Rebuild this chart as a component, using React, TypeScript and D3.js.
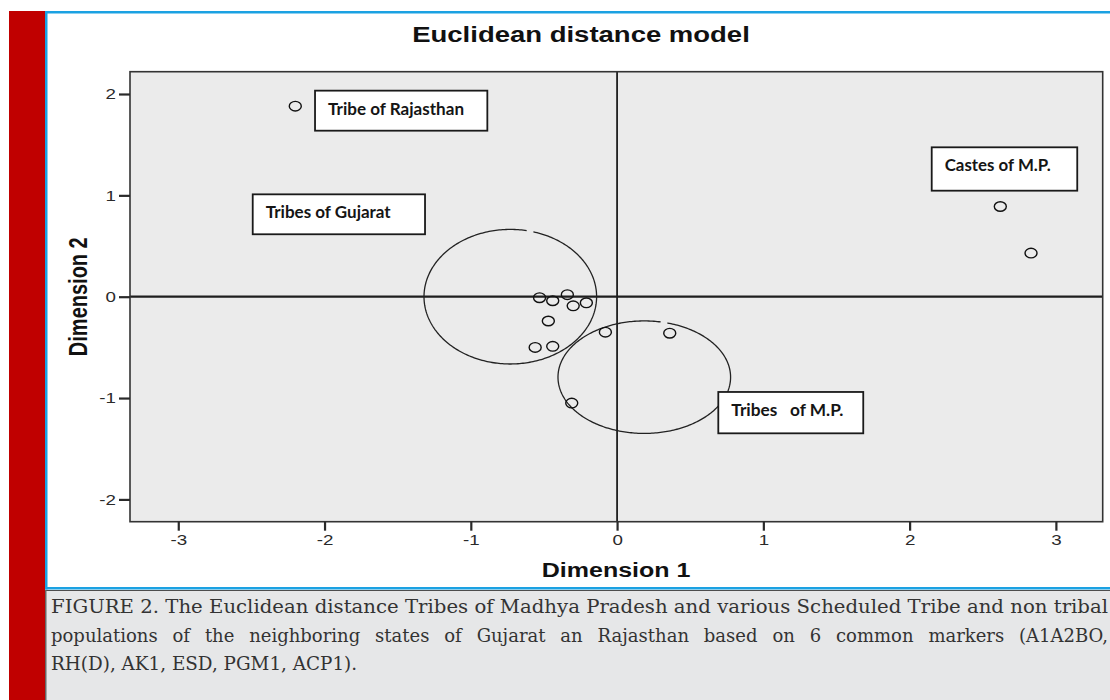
import * as d3 from 'd3';
import React, { useEffect, useRef } from 'react';

// object points, Dimension 1 / Dimension 2
const dim1 = [-2.2, 2.62, 2.83, -0.53, -0.44, -0.34, -0.3, -0.21, -0.47, -0.56, -0.44, -0.08, 0.36, -0.31];
const dim2 = [1.88, 0.89, 0.43, -0.01, -0.04, 0.02, -0.09, -0.06, -0.24, -0.5, -0.49, -0.35, -0.36, -1.05];

const xTicks = [-3, -2, -1, 0, 1, 2, 3];
const yTicks = [-2, -1, 0, 1, 2];

const groupLabels = ['Tribe of Rajasthan', 'Tribes of Gujarat', 'Castes of M.P.', 'Tribes   of M.P.'];

const captionLines = [
	'FIGURE 2. The Euclidean distance Tribes of Madhya Pradesh and various Scheduled Tribe and non tribal',
	'populations of the neighboring states of Gujarat an Rajasthan based on 6 common markers (A1A2BO,',
	'RH(D), AK1, ESD, PGM1, ACP1).',
];

// annotation boxes in data units: [x0, x1, yTop, yBottom, textWidth]
const labelBoxes = [
	[-2.065, -0.887, 2.033, 1.638, 136],
	[-2.491, -1.313, 1.01, 0.616, 125],
	[2.151, 3.146, 1.474, 1.046, 106],
	[0.692, 1.683, -0.94, -1.348, 112],
];

// group ellipses in data units: [cx, cy, rx, ry]
const groupEllipses = [
	[-0.73, 0.0, 0.59, 0.664],
	[0.186, -0.794, 0.59, 0.555],
];

const SANS = '"Liberation Sans", Arial, sans-serif';
const STRETCH = 1.25; // source figure is widened horizontally

export default function App() {
	const containerDiv = useRef<HTMLDivElement>(null);

	useEffect(() => {
		const container = containerDiv.current as HTMLDivElement;
		if (!container) return;
		d3.select(container).selectAll('*').remove();

		const width = 1110;
		const height = 700;

		const svg = d3
			.select(container)
			.append('svg')
			.attr('width', width)
			.attr('height', height)
			.style('position', 'absolute')
			.style('left', '0px')
			.style('top', '0px')
			.style('display', 'block');

		svg.append('rect').attr('width', width).attr('height', height).attr('fill', '#fff');

		// page frame
		svg.append('rect').attr('x', 9).attr('y', 11).attr('width', 36).attr('height', height - 11).attr('fill', '#c00000');
		svg.append('rect').attr('x', 45).attr('y', 11).attr('width', width - 45).attr('height', 579).attr('fill', '#fff');
		svg.append('rect').attr('x', 45).attr('y', 590).attr('width', width - 45).attr('height', 110).attr('fill', '#e6e7e8');
		svg.append('line').attr('x1', 45).attr('x2', width).attr('y1', 590.5).attr('y2', 590.5).attr('stroke', '#4d4d4d').attr('stroke-width', 1);
		svg.append('line').attr('x1', 45.75).attr('x2', 45.75).attr('y1', 590).attr('y2', height).attr('stroke', '#666').attr('stroke-width', 1.5);
		const blue = '#1ba1e2';
		svg.append('rect').attr('x', 45).attr('y', 11).attr('width', width - 45).attr('height', 2.5).attr('fill', blue);
		svg.append('rect').attr('x', 45).attr('y', 11).attr('width', 2.5).attr('height', 578.5).attr('fill', blue);
		svg.append('rect').attr('x', 45).attr('y', 587).attr('width', width - 45).attr('height', 2.5).attr('fill', blue);

		const x = d3.scaleLinear().domain([-3.33, 3.32]).range([130, 1102.7]);
		const y = d3.scaleLinear().domain([-2.22, 2.22]).range([521.7, 71.7]);

		// plot background
		svg.append('rect')
			.attr('x', x(-3.33))
			.attr('y', y(2.22))
			.attr('width', x(3.32) - x(-3.33))
			.attr('height', y(-2.22) - y(2.22))
			.attr('fill', '#ebebeb');

		// reference lines through origin
		svg.append('line')
			.attr('x1', x(-3.33)).attr('x2', x(3.32))
			.attr('y1', y(0)).attr('y2', y(0))
			.attr('stroke', '#1e1e1e').attr('stroke-width', 2.2);
		svg.append('line')
			.attr('x1', x(0)).attr('x2', x(0))
			.attr('y1', y(2.22)).attr('y2', y(-2.22))
			.attr('stroke', '#1e1e1e').attr('stroke-width', 1.8);

		// group ellipses, drawn with a small break at the top like the original
		const gapStart = 1.3;
		const gapEnd = 1.38;
		const angles = d3.range(gapEnd, gapStart + 2 * Math.PI, 0.02).concat([gapStart + 2 * Math.PI]);
		groupEllipses.forEach(([cx, cy, rx, ry]) => {
			const path = d3
				.line<number>()
				.x(t => x(cx + rx * Math.cos(t)))
				.y(t => y(cy + ry * Math.sin(t)));
			svg.append('path')
				.attr('d', path(angles))
				.attr('fill', 'none')
				.attr('stroke', '#222')
				.attr('stroke-width', 1.3);
		});

		// points
		svg.append('g')
			.selectAll('ellipse')
			.data(dim1.map((d, i) => [d, dim2[i]]))
			.join('ellipse')
			.attr('cx', d => x(d[0]))
			.attr('cy', d => y(d[1]))
			.attr('rx', 6)
			.attr('ry', 4.8)
			.attr('fill', 'none')
			.attr('stroke', '#111')
			.attr('stroke-width', 1.4);

		// label boxes
		labelBoxes.forEach(([x0, x1, yt, yb, tw], i) => {
			svg.append('rect')
				.attr('x', x(x0))
				.attr('y', y(yt))
				.attr('width', x(x1) - x(x0))
				.attr('height', y(yb) - y(yt))
				.attr('fill', '#fff')
				.attr('stroke', '#1a1a1a')
				.attr('stroke-width', 1.8);
			svg.append('text')
				.attr('x', x(x0) + 13)
				.attr('y', y(yt) + 24)
				.attr('font-family', 'Lato, "Open Sans", sans-serif')
				.attr('font-weight', 'bold')
				.attr('font-size', 17.5)
				.attr('fill', '#151515')
				.style('white-space', 'pre')
				.attr('textLength', tw)
				.attr('lengthAdjust', 'spacingAndGlyphs')
				.text(groupLabels[i]);
		});

		// plot border
		svg.append('rect')
			.attr('x', x(-3.33))
			.attr('y', y(2.22))
			.attr('width', x(3.32) - x(-3.33))
			.attr('height', y(-2.22) - y(2.22))
			.attr('fill', 'none')
			.attr('stroke', '#333')
			.attr('stroke-width', 1.6);

		const fmt = (d: any) => String(d);
		const stretchText = (sel: any) =>
			sel.each(function (this: SVGTextElement) {
				const len = this.getComputedTextLength();
				d3.select(this).attr('textLength', len * STRETCH).attr('lengthAdjust', 'spacingAndGlyphs');
			});

		const xAxis = svg
			.append('g')
			.attr('transform', `translate(0,${y(-2.22)})`)
			.call(d3.axisBottom(x).tickValues(xTicks).tickFormat(fmt).tickSize(9).tickPadding(4).tickSizeOuter(0));
		const yAxis = svg
			.append('g')
			.attr('transform', `translate(${x(-3.33)},0)`)
			.call(d3.axisLeft(y).tickValues(yTicks).tickFormat(fmt).tickSize(11).tickPadding(3).tickSizeOuter(0));

		[xAxis, yAxis].forEach(g => {
			g.select('.domain').remove();
			g.selectAll('.tick line').attr('stroke', '#2a2a2a').attr('stroke-width', 2.2);
			g.selectAll('.tick text')
				.attr('font-family', SANS)
				.attr('font-size', 15)
				.attr('fill', '#2a2a2a')
				.call(stretchText);
		});

		// titles
		svg.append('text')
			.attr('transform', `translate(581,41.7) scale(${STRETCH},1)`)
			.attr('text-anchor', 'middle')
			.attr('font-family', SANS)
			.attr('font-weight', 'bold')
			.attr('font-size', 22)
			.attr('fill', '#111')
			.text('Euclidean distance model');

		svg.append('text')
			.attr('transform', `translate(${x(0) - 1},577.3) scale(${STRETCH},1)`)
			.attr('text-anchor', 'middle')
			.attr('font-family', SANS)
			.attr('font-weight', 'bold')
			.attr('font-size', 20)
			.attr('fill', '#111')
			.text('Dimension 1');

		svg.append('text')
			.attr('transform', `translate(87,${y(0)}) scale(${STRETCH},1) rotate(-90)`)
			.attr('text-anchor', 'middle')
			.attr('font-family', SANS)
			.attr('font-weight', 'bold')
			.attr('font-size', 20)
			.attr('fill', '#111')
			.text('Dimension 2');

		// caption: first line fills the measure, second line is justified by word spacing
		const captionLeft = 51;
		const captionRight = 1108;
		captionLines.forEach((line, i) => {
			const t = svg
				.append('text')
				.attr('x', captionLeft)
				.attr('y', 613.3 + i * 28.4)
				.attr('font-family', '"DejaVu Serif", serif')
				.attr('font-size', 18)
				.attr('fill', '#333')
				.text(line);
			const node = t.node() as SVGTextElement;
			const natural = node.getComputedTextLength();
			if (i === 0) {
				t.attr('textLength', captionRight - captionLeft).attr('lengthAdjust', 'spacingAndGlyphs');
			} else if (i === 1) {
				const spaces = line.split(' ').length - 1;
				t.attr('word-spacing', (captionRight - captionLeft - natural) / spaces);
			} else {
				t.attr('textLength', natural * 1.02).attr('lengthAdjust', 'spacingAndGlyphs');
			}
		});
	}, []);

	return <div ref={containerDiv}></div>;
}
